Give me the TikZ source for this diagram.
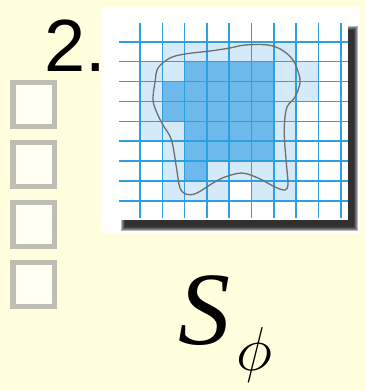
\RequirePackage{fix-cm}
\documentclass[tikz,border=0pt]{standalone}
\usepackage{fontspec}
\newfontfamily\sansf{Liberation Sans}
\newfontfamily\seriff{Liberation Serif}
\definecolor{bgc}{HTML}{FFFFDD}
\definecolor{lightc}{HTML}{D4EAF9}
\definecolor{darkc}{HTML}{6DB9EB}
\definecolor{gridc}{HTML}{2E9FE0}
\definecolor{curvec}{HTML}{6E6E6E}
\definecolor{boxc}{HTML}{BEBEB4}
\definecolor{boxfill}{HTML}{FFFFF3}
\tikzset{
  gridline/.style={draw=gridc, line width=1.6pt},
  checkbox/.style={draw=boxc, fill=boxfill, line width=5.5pt},
  blob/.style={draw=curvec, line width=1.3pt},
  txt/.style={anchor=base west, inner sep=0pt, outer sep=0pt}
}
\begin{document}
\begin{tikzpicture}[x=1pt,y=-1pt]
\useasboundingbox (0,0) rectangle (365,391);
\fill[bgc] (0,0) rectangle (365,391);
% panel
\fill[white] (101,7) rectangle (360,233);
% shadow
\foreach \k in {0,1,2,3,4}
  \fill[black, opacity=0.28] ({121+\k},{26+\k}) rectangle ({358-\k},{231-\k});
% grid area
\fill[white] (119,23) rectangle (348,220);
% light cells
\foreach \c/\r in {2/1,3/1,4/1,5/1,6/1,7/1,
                   1/2,2/2,7/2,8/2,
                   1/3,7/3,8/3,
                   1/4,7/4,
                   1/5,2/5,7/5,
                   2/6,7/6,
                   2/7,4/7,5/7,6/7,7/7,
                   2/8,3/8,4/8,6/8,7/8}
  \fill[lightc] ({140+22.3*(\c-1)},{41.7+19.9*(\r-1)}) rectangle ++(22.3,19.9);
% dark cells
\foreach \c/\r in {3/2,4/2,5/2,6/2,
                   2/3,3/3,4/3,5/3,6/3,
                   2/4,3/4,4/4,5/4,6/4,
                   3/5,4/5,5/5,6/5,
                   3/6,4/6,5/6,6/6,
                   3/7}
  \fill[darkc] ({140+22.3*(\c-1)},{41.7+19.9*(\r-1)}) rectangle ++(22.3,19.9);
% grid lines
\foreach \k in {0,...,9}
  \draw[gridline] ({140+22.3*\k},23) -- ({140+22.3*\k},218);
\foreach \k in {0,...,8}
  \draw[gridline] (119,{41.7+19.9*\k}) -- (348,{41.7+19.9*\k});
% blob outline
\draw[blob] plot[smooth cycle, tension=0.55] coordinates {
 (158,68) (170,58) (185,54) (210,51) (230,48) (245,45) (268,45) (282,50)
 (293,60) (298.5,73) (300,83) (295,97) (287,107) (284.5,123) (284.5,140)
 (286.5,165) (288,184) (285,190) (275,187) (258,178) (242,173) (225,177)
 (213,183) (197,193) (187,194.5) (180,188) (176.5,168) (171.5,140)
 (163,125) (157,113) (153,100) (155,82)};
% checkboxes
\foreach \i in {0,1,2,3}
  \draw[checkbox] (13,{82.7+60*\i}) rectangle (54.5,{126.5+60*\i});
\node[txt] (num) at (44.5,71.7) {\fontsize{74}{74}\selectfont\sansf 2.};
\node[txt] (S) at (178,344) {\fontsize{104}{104}\selectfont\seriff\itshape S};
\node[txt] (phi) at (236,370) {\fontsize{62}{62}\selectfont$\phi$};
\end{tikzpicture}
\end{document}
